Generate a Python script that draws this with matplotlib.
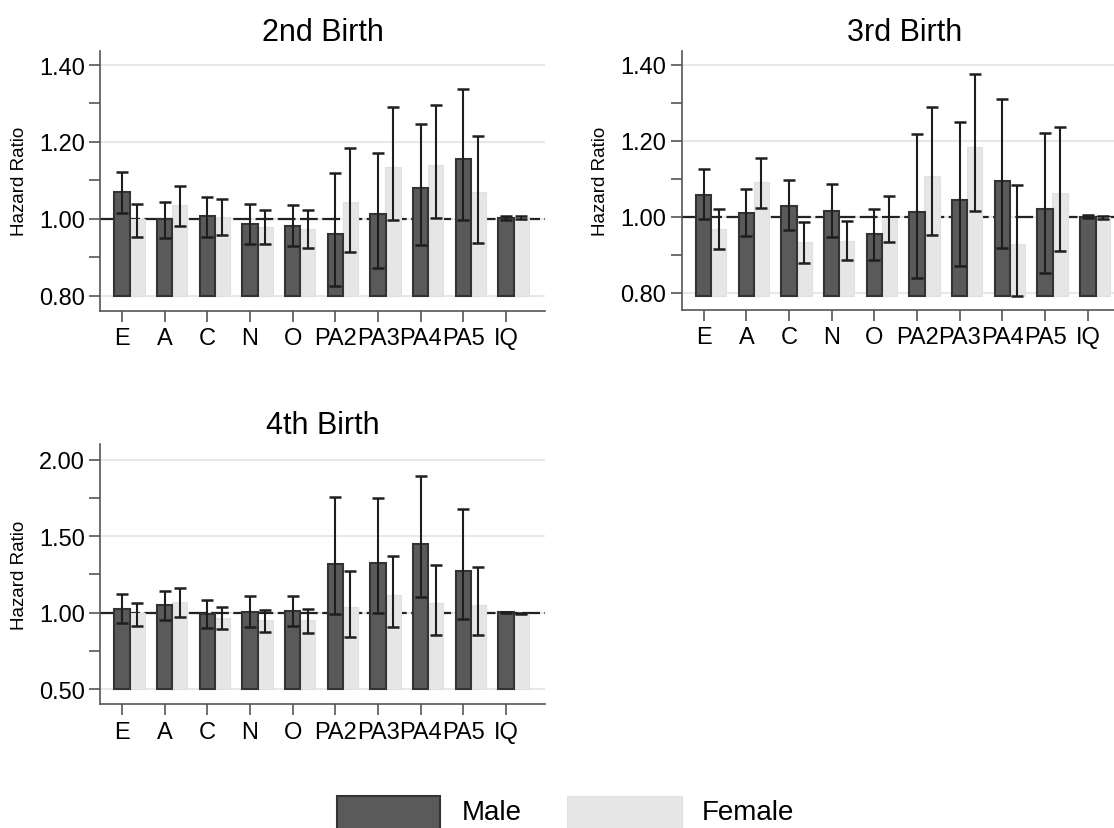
import matplotlib.pyplot as plt
from matplotlib.patches import Rectangle
from matplotlib.ticker import MultipleLocator, FormatStrFormatter

plt.rcParams['font.family'] = ['Liberation Sans', 'DejaVu Sans']

cats = ['E', 'A', 'C', 'N', 'O', 'PA2', 'PA3', 'PA4', 'PA5', 'IQ']

# 2nd birth
b2_male = [1.070, 1.000, 1.007, 0.987, 0.981, 0.961, 1.012, 1.080, 1.155, 1.003]
b2_male_lo = [1.016, 0.950, 0.953, 0.935, 0.929, 0.826, 0.873, 0.932, 0.998, 0.998]
b2_male_hi = [1.123, 1.045, 1.057, 1.039, 1.037, 1.119, 1.171, 1.247, 1.337, 1.007]
b2_female = [1.000, 1.035, 1.004, 0.979, 0.974, 1.043, 1.135, 1.141, 1.069, 1.003]
b2_female_lo = [0.952, 0.981, 0.958, 0.935, 0.925, 0.914, 0.998, 1.003, 0.938, 0.999]
b2_female_hi = [1.039, 1.085, 1.052, 1.023, 1.022, 1.183, 1.290, 1.296, 1.215, 1.007]

# 3rd birth
b3_male = [1.059, 1.011, 1.029, 1.015, 0.954, 1.014, 1.045, 1.095, 1.021, 1.001]
b3_male_lo = [0.995, 0.950, 0.967, 0.947, 0.887, 0.840, 0.871, 0.918, 0.852, 0.998]
b3_male_hi = [1.127, 1.074, 1.097, 1.086, 1.022, 1.218, 1.251, 1.311, 1.222, 1.004]
b3_female = [0.968, 1.091, 0.934, 0.938, 0.995, 1.109, 1.185, 0.928, 1.064, 0.999]
b3_female_lo = [0.917, 1.024, 0.880, 0.886, 0.934, 0.953, 1.017, 0.793, 0.910, 0.996]
b3_female_hi = [1.021, 1.156, 0.986, 0.989, 1.054, 1.290, 1.377, 1.084, 1.238, 1.003]

# 4th birth
b4_male = [1.026, 1.048, 0.993, 1.007, 1.011, 1.320, 1.325, 1.447, 1.275, 1.003]
b4_male_lo = [0.930, 0.954, 0.900, 0.906, 0.913, 0.989, 1.000, 1.102, 0.961, 1.000]
b4_male_hi = [1.124, 1.144, 1.083, 1.107, 1.111, 1.759, 1.748, 1.896, 1.680, 1.006]
b4_female = [0.998, 1.068, 0.965, 0.950, 0.950, 1.039, 1.118, 1.065, 1.052, 0.993]
b4_female_lo = [0.913, 0.974, 0.891, 0.876, 0.869, 0.841, 0.904, 0.854, 0.852, 0.990]
b4_female_hi = [1.065, 1.164, 1.039, 1.015, 1.022, 1.270, 1.368, 1.314, 1.296, 0.996]

MALE = '#5a5a5a'
FEMALE = '#e6e6e6'
W, H = 1114, 829

fig = plt.figure(figsize=(W / 100, H / 100), dpi=100)


def px_axes(left, top, right, bottom):
    return fig.add_axes([left / W, 1 - bottom / H, (right - left) / W, (bottom - top) / H])


def panel(ax, title, male, mlo, mhi, female, flo, fhi, base, ylim, major, minor):
    x = list(range(len(cats)))
    xf = [i + 0.35 for i in x]
    ax.set_xlim(-0.515, 9.91)
    ax.set_ylim(*ylim)
    ax.yaxis.set_major_locator(MultipleLocator(major))
    ax.yaxis.set_minor_locator(MultipleLocator(minor))
    ax.yaxis.set_major_formatter(FormatStrFormatter('%.2f'))
    ax.grid(axis='y', which='major', color='#e8e8e8', lw=1.5)
    ax.set_axisbelow(True)
    ax.axhline(1.0, color='#222222', lw=1.6, ls=(0, (8, 2)), zorder=1.5)
    ax.bar(xf, [v - base for v in female], 0.36, bottom=base, color=FEMALE,
           edgecolor='#e0e0e0', lw=0.8, zorder=2)
    ax.bar(x, [v - base for v in male], 0.36, bottom=base, color=MALE,
           edgecolor='#333333', lw=1.5, zorder=3)
    ax.errorbar(x, male, yerr=[[m - l for m, l in zip(male, mlo)], [h - m for m, h in zip(male, mhi)]],
                fmt='none', ecolor='#1e1e1e', elinewidth=1.5, capsize=4.3, capthick=1.8, zorder=4)
    ax.errorbar(xf, female, yerr=[[m - l for m, l in zip(female, flo)], [h - m for m, h in zip(female, fhi)]],
                fmt='none', ecolor='#1e1e1e', elinewidth=1.5, capsize=4.3, capthick=1.8, zorder=4)
    ax.set_xticks(x)
    ax.set_xticklabels(cats)
    for s in ['top', 'right']:
        ax.spines[s].set_visible(False)
    for s in ['left', 'bottom']:
        ax.spines[s].set_color('#555555')
        ax.spines[s].set_linewidth(1.2)
    ax.tick_params(axis='both', which='both', direction='out', length=8, width=1.2,
                   color='#555555', labelsize=17, pad=3)
    ax.tick_params(axis='x', labelsize=17, pad=4)
    ax.set_ylabel('Hazard Ratio', fontsize=13.5, labelpad=8)
    ax.set_title(title, fontsize=22, pad=8)


ax1 = px_axes(100, 52, 545, 311.7)
panel(ax1, '2nd Birth', b2_male, b2_male_lo, b2_male_hi, b2_female, b2_female_lo, b2_female_hi,
      0.80, (0.761, 1.4365), 0.2, 0.1)

ax2 = px_axes(681.7, 51.7, 1126.7, 310.7)
panel(ax2, '3rd Birth', b3_male, b3_male_lo, b3_male_hi, b3_female, b3_female_lo, b3_female_hi,
      0.793, (0.756, 1.4376), 0.2, 0.1)

ax3 = px_axes(100, 445, 545, 705)
panel(ax3, '4th Birth', b4_male, b4_male_lo, b4_male_hi, b4_female, b4_female_lo, b4_female_hi,
      0.50, (0.402, 2.103), 0.5, 0.25)

# legend
fig.add_artist(Rectangle((337 / W, 1 - 840 / H), 103 / W, 43 / H, transform=fig.transFigure,
                         facecolor=MALE, edgecolor='#333333', lw=1.5))
fig.text(462 / W, 1 - 813 / H, 'Male', fontsize=20, va='center', ha='left')
fig.add_artist(Rectangle((567 / W, 1 - 840 / H), 115 / W, 43 / H, transform=fig.transFigure,
                         facecolor=FEMALE, edgecolor='#e0e0e0', lw=0.8))
fig.text(702 / W, 1 - 813 / H, 'Female', fontsize=20, va='center', ha='left')

fig.savefig('out.png', dpi=100)
